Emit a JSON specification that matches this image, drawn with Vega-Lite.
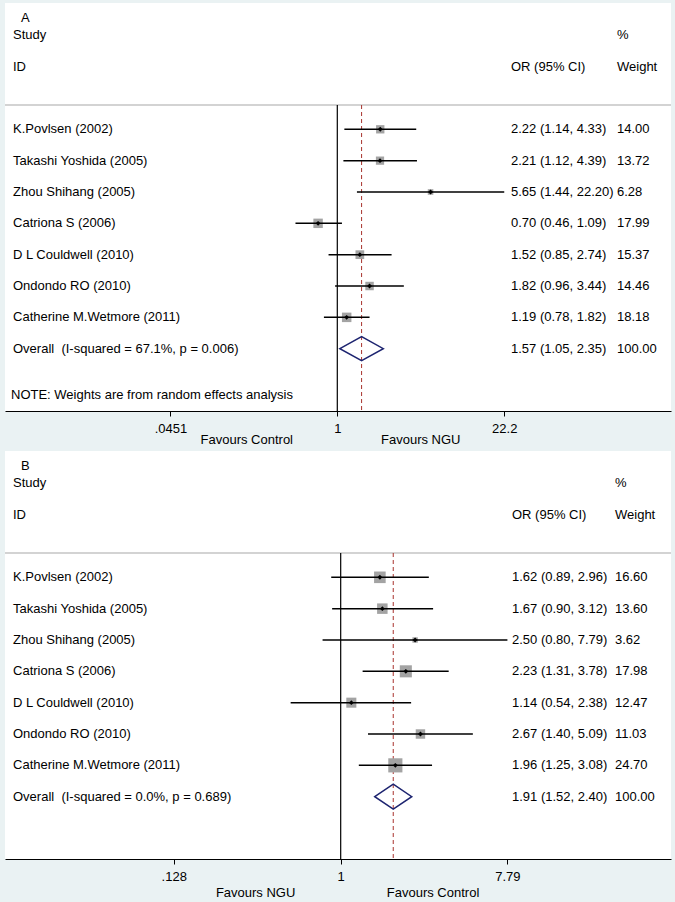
{
  "$schema": "https://vega.github.io/schema/vega-lite/v6.json",
  "background": "#EAF2F3",
  "padding": {"left": 4, "top": 3, "right": 5, "bottom": 0},
  "spacing": 40,
  "bounds": "flush",
  "resolve": {"scale": {"size": "independent"}},
  "config": {
    "view": {"fill": "white", "stroke": null},
    "font": "Liberation Sans",
    "text": {"font": "Liberation Sans", "fontSize": 13, "color": "black", "baseline": "middle", "align": "left"},
    "axisY": {"disable": true}
  },
  "datasets": {
    "a": [
      {"row": -2, "type": "header", "study": "Study", "wt": "%"},
      {"row": -1, "type": "header", "study": "ID", "ci": "OR (95% CI)", "wt": "Weight"},
      {"row": 1, "type": "study", "study": "K.Povlsen (2002)", "or": 2.22, "lo": 1.14, "hi": 4.33, "ci": "2.22 (1.14, 4.33)", "weight": 14.00, "wt": "14.00"},
      {"row": 2, "type": "study", "study": "Takashi Yoshida (2005)", "or": 2.21, "lo": 1.12, "hi": 4.39, "ci": "2.21 (1.12, 4.39)", "weight": 13.72, "wt": "13.72"},
      {"row": 3, "type": "study", "study": "Zhou Shihang (2005)", "or": 5.65, "lo": 1.44, "hi": 22.20, "ci": "5.65 (1.44, 22.20)", "weight": 6.28, "wt": "6.28"},
      {"row": 4, "type": "study", "study": "Catriona S (2006)", "or": 0.70, "lo": 0.46, "hi": 1.09, "ci": "0.70 (0.46, 1.09)", "weight": 17.99, "wt": "17.99"},
      {"row": 5, "type": "study", "study": "D L Couldwell (2010)", "or": 1.52, "lo": 0.85, "hi": 2.74, "ci": "1.52 (0.85, 2.74)", "weight": 15.37, "wt": "15.37"},
      {"row": 6, "type": "study", "study": "Ondondo RO (2010)", "or": 1.82, "lo": 0.96, "hi": 3.44, "ci": "1.82 (0.96, 3.44)", "weight": 14.46, "wt": "14.46"},
      {"row": 7, "type": "study", "study": "Catherine M.Wetmore (2011)", "or": 1.19, "lo": 0.78, "hi": 1.82, "ci": "1.19 (0.78, 1.82)", "weight": 18.18, "wt": "18.18"},
      {"row": 8, "type": "overall", "study": "Overall\u00a0 (I-squared = 67.1%, p = 0.006)", "or": 1.57, "lo": 1.05, "hi": 2.35, "ci": "1.57 (1.05, 2.35)", "weight": 100.00, "wt": "100.00"}
    ],
    "b": [
      {"row": -2, "type": "header", "study": "Study", "wt": "%"},
      {"row": -1, "type": "header", "study": "ID", "ci": "OR (95% CI)", "wt": "Weight"},
      {"row": 1, "type": "study", "study": "K.Povlsen (2002)", "or": 1.62, "lo": 0.89, "hi": 2.96, "ci": "1.62 (0.89, 2.96)", "weight": 16.60, "wt": "16.60"},
      {"row": 2, "type": "study", "study": "Takashi Yoshida (2005)", "or": 1.67, "lo": 0.90, "hi": 3.12, "ci": "1.67 (0.90, 3.12)", "weight": 13.60, "wt": "13.60"},
      {"row": 3, "type": "study", "study": "Zhou Shihang (2005)", "or": 2.50, "lo": 0.80, "hi": 7.79, "ci": "2.50 (0.80, 7.79)", "weight": 3.62, "wt": "3.62"},
      {"row": 4, "type": "study", "study": "Catriona S (2006)", "or": 2.23, "lo": 1.31, "hi": 3.78, "ci": "2.23 (1.31, 3.78)", "weight": 17.98, "wt": "17.98"},
      {"row": 5, "type": "study", "study": "D L Couldwell (2010)", "or": 1.14, "lo": 0.54, "hi": 2.38, "ci": "1.14 (0.54, 2.38)", "weight": 12.47, "wt": "12.47"},
      {"row": 6, "type": "study", "study": "Ondondo RO (2010)", "or": 2.67, "lo": 1.40, "hi": 5.09, "ci": "2.67 (1.40, 5.09)", "weight": 11.03, "wt": "11.03"},
      {"row": 7, "type": "study", "study": "Catherine M.Wetmore (2011)", "or": 1.96, "lo": 1.25, "hi": 3.08, "ci": "1.96 (1.25, 3.08)", "weight": 24.70, "wt": "24.70"},
      {"row": 8, "type": "overall", "study": "Overall\u00a0 (I-squared = 0.0%, p = 0.689)", "or": 1.91, "lo": 1.52, "hi": 2.40, "ci": "1.91 (1.52, 2.40)", "weight": 100.00, "wt": "100.00"}
    ]
  },
  "vconcat": [
    {
      "width": 666,
      "height": 408,
      "data": {"name": "a"},
      "layer": [
        {
          "mark": {"type": "rule", "color": "#c4c4c4", "strokeWidth": 1.5},
          "transform": [{"filter": "datum.type == 'overall'"}],
          "encoding": {
            "y": {"datum": 0.225, "type": "quantitative", "scale": {"domain": [-3.03, 9.988], "reverse": true, "nice": false, "zero": false}, "axis": null}
          }
        },
        {
          "mark": {"type": "rule", "color": "black", "strokeWidth": 1.2},
          "transform": [{"filter": "datum.type == 'overall'"}],
          "encoding": {
            "x": {"datum": 1, "type": "quantitative",
              "scale": {"type": "log", "domain": [0.0020898, 491.1], "nice": false},
              "axis": {"values": [0.0451, 1, 22.2], "labelExpr": "replace(format(datum.value, '~g'), '0.', '.')", "title": null, "grid": false,
                "domainColor": "black", "domainWidth": 1.2, "tickColor": "black", "tickSize": 5, "tickWidth": 1,
                "labelColor": "black", "labelFont": "Liberation Sans", "labelFontSize": 13, "labelPadding": 6,
                "labelFlush": false, "labelOverlap": false, "zindex": 1}},
            "y": {"datum": 0.225, "type": "quantitative", "axis": null},
            "y2": {"datum": 9.988}
          }
        },
        {
          "mark": {"type": "rule", "color": "#a8322d", "strokeDash": [4, 3], "strokeWidth": 1},
          "transform": [{"filter": "datum.type == 'overall'"}],
          "encoding": {
            "x": {"field": "or", "type": "quantitative"},
            "y": {"datum": 0.225, "type": "quantitative", "axis": null},
            "y2": {"datum": 9.988}
          }
        },
        {
          "mark": {"type": "square", "color": "#a3a3a3", "filled": true, "opacity": 1},
          "transform": [{"filter": "datum.type == 'study'"}],
          "encoding": {
            "x": {"field": "or", "type": "quantitative"},
            "y": {"field": "row", "type": "quantitative", "axis": null},
            "size": {"field": "weight", "type": "quantitative", "scale": {"type": "linear", "domain": [0, 18.18], "range": [0, 90]}, "legend": null}
          }
        },
        {
          "mark": {"type": "rule", "color": "black", "strokeWidth": 1.5},
          "transform": [{"filter": "datum.type == 'study'"}],
          "encoding": {
            "x": {"field": "lo", "type": "quantitative"},
            "x2": {"field": "hi"},
            "y": {"field": "row", "type": "quantitative", "axis": null}
          }
        },
        {
          "mark": {"type": "point", "shape": "diamond", "filled": true, "color": "black", "size": 24, "opacity": 1},
          "transform": [{"filter": "datum.type == 'study'"}],
          "encoding": {
            "x": {"field": "or", "type": "quantitative"},
            "y": {"field": "row", "type": "quantitative", "axis": null}
          }
        },
        {
          "mark": {"type": "point", "shape": "M-1,0L0,-0.553L1,0L0,0.553Z", "size": 1884, "filled": false, "stroke": "#1d2470", "strokeWidth": 1.5, "opacity": 1},
          "transform": [{"filter": "datum.type == 'overall'"}],
          "encoding": {
            "x": {"field": "or", "type": "quantitative"},
            "y": {"field": "row", "type": "quantitative", "axis": null}
          }
        },
        {
          "mark": {"type": "text"},
          "transform": [{"filter": "isValid(datum.study)"}],
          "encoding": {
            "x": {"datum": 0.002425, "type": "quantitative"},
            "y": {"field": "row", "type": "quantitative", "axis": null},
            "text": {"field": "study"}
          }
        },
        {
          "mark": {"type": "text"},
          "transform": [{"filter": "isValid(datum.ci)"}],
          "encoding": {
            "x": {"datum": 25.16, "type": "quantitative"},
            "y": {"field": "row", "type": "quantitative", "axis": null},
            "text": {"field": "ci"}
          }
        },
        {
          "mark": {"type": "text"},
          "transform": [{"filter": "isValid(datum.wt)"}],
          "encoding": {
            "x": {"datum": 180.2, "type": "quantitative"},
            "y": {"field": "row", "type": "quantitative", "axis": null},
            "text": {"field": "wt"}
          }
        },
        {
          "data": {"values": [{"label": "A"}]},
          "mark": {"type": "text"},
          "encoding": {
            "x": {"datum": 0.002813, "type": "quantitative"},
            "y": {"datum": -2.551, "type": "quantitative", "axis": null},
            "text": {"field": "label"}
          }
        },
        {
          "data": {"values": [{"label": "NOTE: Weights are from random effects analysis"}]},
          "mark": {"type": "text"},
          "encoding": {
            "x": {"datum": 0.002336, "type": "quantitative"},
            "y": {"datum": 9.477, "type": "quantitative", "axis": null},
            "text": {"field": "label"}
          }
        },
        {
          "data": {"values": [{"label": "Favours Control"}]},
          "mark": {"type": "text", "align": "right"},
          "encoding": {
            "x": {"datum": 0.4393, "type": "quantitative"},
            "y": {"datum": 10.914, "type": "quantitative", "axis": null},
            "text": {"field": "label"}
          }
        },
        {
          "data": {"values": [{"label": "Favours NGU"}]},
          "mark": {"type": "text", "align": "left"},
          "encoding": {
            "x": {"datum": 2.251, "type": "quantitative"},
            "y": {"datum": 10.914, "type": "quantitative", "axis": null},
            "text": {"field": "label"}
          }
        }
      ]
    },
    {
      "width": 666,
      "height": 408,
      "data": {"name": "b"},
      "layer": [
        {
          "data": {"values": [{"part": "band"}]},
          "mark": {"type": "rect", "color": "#EAF2F3"},
          "encoding": {
            "x": {"datum": 0.016028, "type": "quantitative"},
            "x2": {"datum": 58.39},
            "y": {"datum": 9.988, "type": "quantitative", "axis": null},
            "y2": {"datum": 11.3605}
          }
        },
        {
          "mark": {"type": "rule", "color": "#c4c4c4", "strokeWidth": 1.5},
          "transform": [{"filter": "datum.type == 'overall'"}],
          "encoding": {
            "y": {"datum": 0.225, "type": "quantitative", "scale": {"domain": [-3.03, 9.988], "reverse": true, "nice": false, "zero": false}, "axis": null}
          }
        },
        {
          "mark": {"type": "rule", "color": "black", "strokeWidth": 1.2},
          "transform": [{"filter": "datum.type == 'overall'"}],
          "encoding": {
            "x": {"datum": 1, "type": "quantitative",
              "scale": {"type": "log", "domain": [0.016028, 58.39], "nice": false},
              "axis": {"values": [0.128, 1, 7.79], "labelExpr": "replace(format(datum.value, '~g'), '0.', '.')", "title": null, "grid": false,
                "domainColor": "black", "domainWidth": 1.2, "tickColor": "black", "tickSize": 5, "tickWidth": 1,
                "labelColor": "black", "labelFont": "Liberation Sans", "labelFontSize": 13, "labelPadding": 6,
                "labelFlush": false, "labelOverlap": false, "zindex": 1}},
            "y": {"datum": 0.225, "type": "quantitative", "axis": null},
            "y2": {"datum": 9.988}
          }
        },
        {
          "mark": {"type": "rule", "color": "#a8322d", "strokeDash": [4, 3], "strokeWidth": 1},
          "transform": [{"filter": "datum.type == 'overall'"}],
          "encoding": {
            "x": {"field": "or", "type": "quantitative"},
            "y": {"datum": 0.225, "type": "quantitative", "axis": null},
            "y2": {"datum": 9.988}
          }
        },
        {
          "mark": {"type": "square", "color": "#a3a3a3", "filled": true, "opacity": 1},
          "transform": [{"filter": "datum.type == 'study'"}],
          "encoding": {
            "x": {"field": "or", "type": "quantitative"},
            "y": {"field": "row", "type": "quantitative", "axis": null},
            "size": {"field": "weight", "type": "quantitative", "scale": {"type": "linear", "domain": [0, 24.7], "range": [0, 200]}, "legend": null}
          }
        },
        {
          "mark": {"type": "rule", "color": "black", "strokeWidth": 1.5},
          "transform": [{"filter": "datum.type == 'study'"}],
          "encoding": {
            "x": {"field": "lo", "type": "quantitative"},
            "x2": {"field": "hi"},
            "y": {"field": "row", "type": "quantitative", "axis": null}
          }
        },
        {
          "mark": {"type": "point", "shape": "diamond", "filled": true, "color": "black", "size": 24, "opacity": 1},
          "transform": [{"filter": "datum.type == 'study'"}],
          "encoding": {
            "x": {"field": "or", "type": "quantitative"},
            "y": {"field": "row", "type": "quantitative", "axis": null}
          }
        },
        {
          "mark": {"type": "point", "shape": "M-1,0L0,-0.676L1,0L0,0.676Z", "size": 1369, "filled": false, "stroke": "#1d2470", "strokeWidth": 1.5, "opacity": 1},
          "transform": [{"filter": "datum.type == 'overall'"}],
          "encoding": {
            "x": {"field": "or", "type": "quantitative"},
            "y": {"field": "row", "type": "quantitative", "axis": null}
          }
        },
        {
          "mark": {"type": "text"},
          "transform": [{"filter": "isValid(datum.study)"}],
          "encoding": {
            "x": {"datum": 0.01769, "type": "quantitative"},
            "y": {"field": "row", "type": "quantitative", "axis": null},
            "text": {"field": "study"}
          }
        },
        {
          "mark": {"type": "text"},
          "transform": [{"filter": "isValid(datum.ci)"}],
          "encoding": {
            "x": {"datum": 8.244, "type": "quantitative"},
            "y": {"field": "row", "type": "quantitative", "axis": null},
            "text": {"field": "ci"}
          }
        },
        {
          "mark": {"type": "text"},
          "transform": [{"filter": "isValid(datum.wt)"}],
          "encoding": {
            "x": {"datum": 29.3, "type": "quantitative"},
            "y": {"field": "row", "type": "quantitative", "axis": null},
            "text": {"field": "wt"}
          }
        },
        {
          "data": {"values": [{"label": "B"}]},
          "mark": {"type": "text"},
          "encoding": {
            "x": {"datum": 0.01952, "type": "quantitative"},
            "y": {"datum": -2.551, "type": "quantitative", "axis": null},
            "text": {"field": "label"}
          }
        },
        {
          "data": {"values": [{"label": "Favours NGU"}]},
          "mark": {"type": "text", "align": "right"},
          "encoding": {
            "x": {"datum": 0.5724, "type": "quantitative"},
            "y": {"datum": 11.07, "type": "quantitative", "axis": null},
            "text": {"field": "label"}
          }
        },
        {
          "data": {"values": [{"label": "Favours Control"}]},
          "mark": {"type": "text", "align": "left"},
          "encoding": {
            "x": {"datum": 1.764, "type": "quantitative"},
            "y": {"datum": 11.07, "type": "quantitative", "axis": null},
            "text": {"field": "label"}
          }
        }
      ]
    }
  ]
}
